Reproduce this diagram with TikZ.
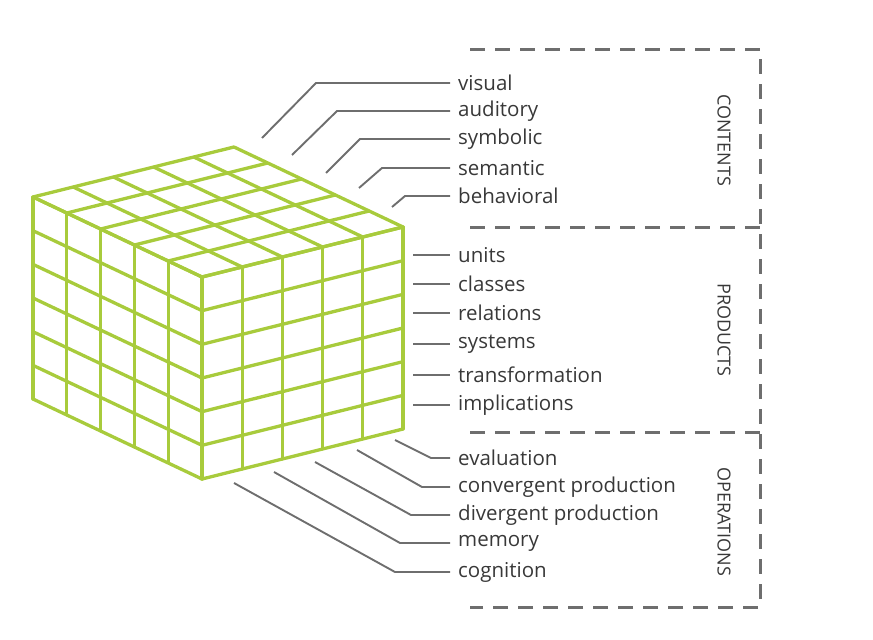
\documentclass[tikz,border=0pt]{standalone}
\usepackage{fontspec}
\setmainfont{Open Sans}
\usetikzlibrary{calc}
\definecolor{cubeg}{HTML}{A8CB3C}
\definecolor{lgray}{HTML}{6E6E6E}
\begin{document}
\begin{tikzpicture}[x=1pt,y=-1pt,
  grid/.style={cubeg,line width=3.3pt,line join=round,line cap=round},
  lead/.style={lgray,line width=1.9pt},
  lab/.style={anchor=west,inner sep=0pt,font=\fontsize{20.5}{21}\selectfont,text=black!78},
  cat/.style={rotate=-90,inner sep=0pt,font=\fontsize{18}{19}\selectfont,text=black!78},
  box/.style={lgray,line width=3pt,dash pattern=on 15pt off 10pt}]
\useasboundingbox (0,0) rectangle (873,640);
% cube
\coordinate (F) at (202,277);
\def\Rx{201}\def\Ry{-50}\def\Lx{-169}\def\Ly{-80}\def\Dy{202}
\foreach \a in {0,...,5}
  \draw[grid] ($(F)+(\a*\Lx/5,\a*\Ly/5)$) -- ++(0,\Dy);
\foreach \b in {0,...,6}
  \draw[grid] ($(F)+(0,\b*\Dy/6)$) -- ++(\Lx,\Ly);
\foreach \a in {0,...,5}
  \draw[grid] ($(F)+(\a*\Rx/5,\a*\Ry/5)$) -- ++(0,\Dy);
\foreach \b in {0,...,6}
  \draw[grid] ($(F)+(0,\b*\Dy/6)$) -- ++(\Rx,\Ry);
\foreach \a in {0,...,5}{
  \draw[grid] ($(F)+(\a*\Rx/5,\a*\Ry/5)$) -- ++(\Lx,\Ly);
  \draw[grid] ($(F)+(\a*\Lx/5,\a*\Ly/5)$) -- ++(\Rx,\Ry);}
% dashed box
\draw[box] (470,49) -- (760,49) -- (760,607) -- (470,607);
\draw[box] (470,227) -- (760,227);
\draw[box] (470,432) -- (760,432);
\node[cat] (cC) at (724,140) {CONTENTS};
\node[cat] (cP) at (724,330) {PRODUCTS};
\node[cat] (cO) at (724,522) {OPERATIONS};
% contents labels
\node[lab] (vis) at (458,83) {visual};
\node[lab] (aud) at (458,111) {auditory};
\node[lab] (sym) at (458,139) {symbolic};
\node[lab] (sem) at (458,168) {semantic};
\node[lab] (beh) at (458,196) {behavioral};
\coordinate (vis0) at (262,138); \coordinate (vis1) at (316,83);
\coordinate (aud0) at (292,155); \coordinate (aud1) at (337,111);
\coordinate (sym0) at (326,173); \coordinate (sym1) at (360,139);
\coordinate (sem0) at (359,188); \coordinate (sem1) at (382,168);
\coordinate (beh0) at (392,207); \coordinate (beh1) at (405,196);
\foreach \n in {vis,aud,sym,sem,beh}
  \draw[lead] (\n0) -- (\n1) -- ([xshift=-8pt]\n.west);
% products
\node[lab] (uni) at (458,255) {units};
\node[lab] (cla) at (458,284) {classes};
\node[lab] (rel) at (458,313) {relations};
\node[lab] (sys) at (458,344) {systems};
\node[lab] (tra) at (458,375) {transformation};
\node[lab] (imp) at (458,405) {implications};
\foreach \n in {uni,cla,rel,sys,tra,imp}{
  \coordinate (\n0) at ([xshift=-45pt]\n.west);
  \draw[lead] (\n0) -- ([xshift=-8pt]\n.west);}
% operations
\node[lab] (eva) at (458,458) {evaluation};
\node[lab] (con) at (458,487) {convergent production};
\node[lab] (div) at (458,515) {divergent production};
\node[lab] (mem) at (458,543) {memory};
\node[lab] (cog) at (458,572) {cognition};
\coordinate (eva0) at (395,440); \coordinate (eva1) at (431,458);
\coordinate (con0) at (357,450); \coordinate (con1) at (422,487);
\coordinate (div0) at (315,462); \coordinate (div1) at (411,515);
\coordinate (mem0) at (274,472); \coordinate (mem1) at (400,543);
\coordinate (cog0) at (234,483); \coordinate (cog1) at (395,572);
\foreach \n in {eva,con,div,mem,cog}
  \draw[lead] (\n0) -- (\n1) -- ([xshift=-8pt]\n.west);
\end{tikzpicture}
\end{document}
